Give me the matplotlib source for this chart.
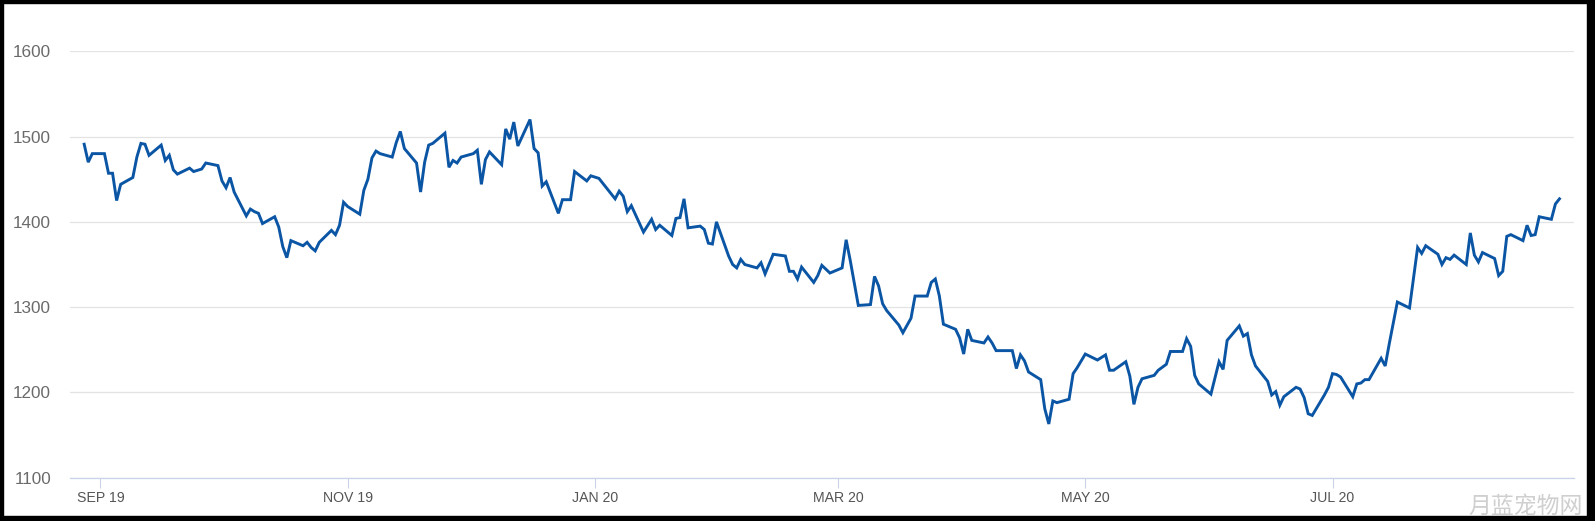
import matplotlib
matplotlib.use('Agg')
import matplotlib.pyplot as plt
import matplotlib.dates as mdates
import pandas as pd
from matplotlib.patches import Rectangle

dates = [
    '2019-08-28', '2019-08-29', '2019-08-30', '2019-09-02', '2019-09-03', '2019-09-04', '2019-09-05', '2019-09-06',
    '2019-09-09', '2019-09-10', '2019-09-11', '2019-09-12', '2019-09-13', '2019-09-16', '2019-09-17', '2019-09-18',
    '2019-09-19', '2019-09-20', '2019-09-23', '2019-09-24', '2019-09-26', '2019-09-27', '2019-09-30', '2019-10-01',
    '2019-10-02', '2019-10-03', '2019-10-04', '2019-10-07', '2019-10-08', '2019-10-09', '2019-10-10', '2019-10-11',
    '2019-10-14', '2019-10-15', '2019-10-16', '2019-10-17', '2019-10-18', '2019-10-21', '2019-10-22', '2019-10-23',
    '2019-10-24', '2019-10-25', '2019-10-28', '2019-10-29', '2019-10-30', '2019-10-31', '2019-11-01', '2019-11-04',
    '2019-11-05', '2019-11-06', '2019-11-07', '2019-11-08', '2019-11-09', '2019-11-12', '2019-11-13', '2019-11-14',
    '2019-11-15', '2019-11-18', '2019-11-19', '2019-11-20', '2019-11-21', '2019-11-22', '2019-11-25', '2019-11-26',
    '2019-11-27', '2019-11-28', '2019-11-29', '2019-12-02', '2019-12-03', '2019-12-04', '2019-12-05', '2019-12-06',
    '2019-12-09', '2019-12-10', '2019-12-11', '2019-12-12', '2019-12-13', '2019-12-16', '2019-12-17', '2019-12-18',
    '2019-12-19', '2019-12-20', '2019-12-23', '2019-12-24', '2019-12-26', '2019-12-27', '2019-12-30', '2019-12-31',
    '2020-01-02', '2020-01-06', '2020-01-07', '2020-01-08', '2020-01-09', '2020-01-10', '2020-01-13', '2020-01-15',
    '2020-01-16', '2020-01-17', '2020-01-20', '2020-01-21', '2020-01-22', '2020-01-23', '2020-01-24', '2020-01-27',
    '2020-01-28', '2020-01-29', '2020-01-30', '2020-01-31', '2020-02-03', '2020-02-04', '2020-02-05', '2020-02-06',
    '2020-02-07', '2020-02-10', '2020-02-11', '2020-02-12', '2020-02-14', '2020-02-17', '2020-02-18', '2020-02-19',
    '2020-02-20', '2020-02-21', '2020-02-24', '2020-02-25', '2020-02-26', '2020-02-28', '2020-03-02', '2020-03-03',
    '2020-03-04', '2020-03-06', '2020-03-09', '2020-03-10', '2020-03-11', '2020-03-12', '2020-03-13', '2020-03-16',
    '2020-03-17', '2020-03-19', '2020-03-20', '2020-03-23', '2020-03-24', '2020-03-25', '2020-03-26', '2020-03-27',
    '2020-03-30', '2020-03-31', '2020-04-01', '2020-04-02', '2020-04-03', '2020-04-06', '2020-04-07', '2020-04-08',
    '2020-04-09', '2020-04-13', '2020-04-14', '2020-04-15', '2020-04-16', '2020-04-17', '2020-04-20', '2020-04-21',
    '2020-04-22', '2020-04-23', '2020-04-24', '2020-04-27', '2020-04-28', '2020-04-29', '2020-05-01', '2020-05-04',
    '2020-05-06', '2020-05-07', '2020-05-08', '2020-05-11', '2020-05-12', '2020-05-13', '2020-05-14', '2020-05-15',
    '2020-05-18', '2020-05-19', '2020-05-21', '2020-05-22', '2020-05-25', '2020-05-26', '2020-05-27', '2020-05-28',
    '2020-05-29', '2020-06-01', '2020-06-03', '2020-06-04', '2020-06-05', '2020-06-08', '2020-06-09', '2020-06-10',
    '2020-06-11', '2020-06-12', '2020-06-15', '2020-06-16', '2020-06-17', '2020-06-18', '2020-06-19', '2020-06-22',
    '2020-06-23', '2020-06-24', '2020-06-25', '2020-06-26', '2020-06-29', '2020-06-30', '2020-07-01', '2020-07-02',
    '2020-07-03', '2020-07-06', '2020-07-07', '2020-07-08', '2020-07-09', '2020-07-10', '2020-07-13', '2020-07-14',
    '2020-07-15', '2020-07-17', '2020-07-20', '2020-07-22', '2020-07-23', '2020-07-24', '2020-07-27', '2020-07-28',
    '2020-07-29', '2020-07-30', '2020-07-31', '2020-08-03', '2020-08-04', '2020-08-05', '2020-08-06', '2020-08-07',
    '2020-08-10', '2020-08-11', '2020-08-12', '2020-08-13', '2020-08-14', '2020-08-17', '2020-08-18', '2020-08-19',
    '2020-08-20', '2020-08-21', '2020-08-24', '2020-08-25', '2020-08-26',
]

values = [
    1491, 1470, 1480, 1480, 1457, 1457, 1425, 1444,
    1452, 1476, 1492, 1491, 1478, 1490, 1472, 1478,
    1461, 1456, 1463, 1459, 1462, 1469, 1466, 1448,
    1440, 1452, 1435, 1407, 1415, 1412, 1410, 1398,
    1406, 1394, 1371, 1358, 1378, 1372, 1376, 1370,
    1366, 1376, 1390, 1385, 1396, 1423, 1418, 1409,
    1437, 1450, 1475, 1483, 1480, 1476, 1493, 1506,
    1486, 1469, 1435, 1470, 1490, 1492, 1504, 1464,
    1472, 1469, 1476, 1480, 1484, 1444, 1473, 1482,
    1467, 1509, 1497, 1517, 1489, 1520, 1486, 1481,
    1442, 1447, 1410, 1426, 1426, 1459, 1448, 1454,
    1451, 1427, 1436, 1430, 1412, 1419, 1388, 1403,
    1391, 1396, 1384, 1404, 1405, 1427, 1393, 1395,
    1391, 1375, 1374, 1400, 1360, 1350, 1346, 1356,
    1350, 1346, 1352, 1339, 1362, 1360, 1342, 1342,
    1333, 1347, 1329, 1337, 1349, 1340, 1346, 1379,
    1355, 1302, 1303, 1336, 1325, 1304, 1296, 1279,
    1270, 1287, 1313, 1313, 1329, 1333, 1313, 1280,
    1274, 1264, 1245, 1274, 1261, 1258, 1265, 1258,
    1249, 1249, 1228, 1244, 1237, 1224, 1215, 1181,
    1163, 1190, 1188, 1192, 1222, 1229, 1245, 1238,
    1244, 1226, 1226, 1236, 1219, 1186, 1206, 1216,
    1220, 1226, 1233, 1248, 1248, 1263, 1254, 1220,
    1210, 1198, 1236, 1227, 1261, 1278, 1266, 1269,
    1244, 1231, 1213, 1197, 1201, 1185, 1195, 1206,
    1204, 1194, 1175, 1173, 1197, 1206, 1222, 1221,
    1218, 1195, 1210, 1211, 1215, 1215, 1240, 1231,
    1257, 1306, 1299, 1370, 1363, 1372, 1362, 1350,
    1358, 1356, 1361, 1350, 1387, 1361, 1353, 1364,
    1357, 1337, 1342, 1383, 1385, 1378, 1396, 1384,
    1385, 1406, 1403, 1421, 1427,
]

y_ticks = [1100, 1200, 1300, 1400, 1500, 1600]
x_tick_dates = ['2019-09-01', '2019-11-01', '2020-01-01', '2020-03-01', '2020-05-01', '2020-07-01']
x_tick_labels = ['SEP 19', 'NOV 19', 'JAN 20', 'MAR 20', 'MAY 20', 'JUL 20']
x_range = ['2019-08-24 12:00', '2020-08-29 14:00']
watermark = '月蓝宠物网'

W, H = 1595, 521
fig = plt.figure(figsize=(W / 100, H / 100), dpi=100)
fig.patch.set_facecolor('white')
ax = fig.add_axes([70 / W, 1 - 477.7 / H, 1504 / W, 426.4 / H])

x = pd.to_datetime(dates)
ax.plot(x, values, color='#0b55a5', linewidth=2.1, solid_joinstyle='miter', zorder=3)

ax.set_ylim(y_ticks[0], y_ticks[-1])
ax.set_xlim(pd.to_datetime(x_range[0]), pd.to_datetime(x_range[1]))

ax.set_yticks(y_ticks)
ax.set_yticklabels([str(v) for v in y_ticks], fontsize=12.3, color='#6a6a6a', family='Liberation Sans')
ax.set_xticks(pd.to_datetime(x_tick_dates))
ax.set_xticklabels(x_tick_labels, fontsize=10.2, color='#555555', family='Liberation Sans')

ax.tick_params(axis='y', length=0, pad=13.5)
ax.tick_params(axis='x', length=7.5, width=0.8, color='#c9d3e8', pad=2, direction='out')

ax.grid(axis='y', color='#e3e3e3', linewidth=0.9)
ax.set_axisbelow(True)
for s in ['top', 'right', 'left']:
    ax.spines[s].set_visible(False)
ax.spines['bottom'].set_color('#c9d3e8')
ax.spines['bottom'].set_linewidth(0.9)
ax.spines['bottom'].set_zorder(2)

# black frame around the image
fig.add_artist(Rectangle((0, 0), 3 / W, 1, transform=fig.transFigure, color='black', zorder=10))
fig.add_artist(Rectangle((1 - 8 / W, 0), 8 / W, 1, transform=fig.transFigure, color='black', zorder=10))
fig.add_artist(Rectangle((0, 1 - 3 / H), 1, 3 / H, transform=fig.transFigure, color='black', zorder=10))
fig.add_artist(Rectangle((0, 0), 1, 5 / H, transform=fig.transFigure, color='black', zorder=10))

fig.text(1583 / W, 1 - 518 / H, watermark, ha='right', va='bottom', fontsize=16.5,
         color='#cfcfcf', family=['Noto Sans CJK SC', 'DejaVu Sans'], zorder=11)

fig.savefig('out.png', dpi=100)
